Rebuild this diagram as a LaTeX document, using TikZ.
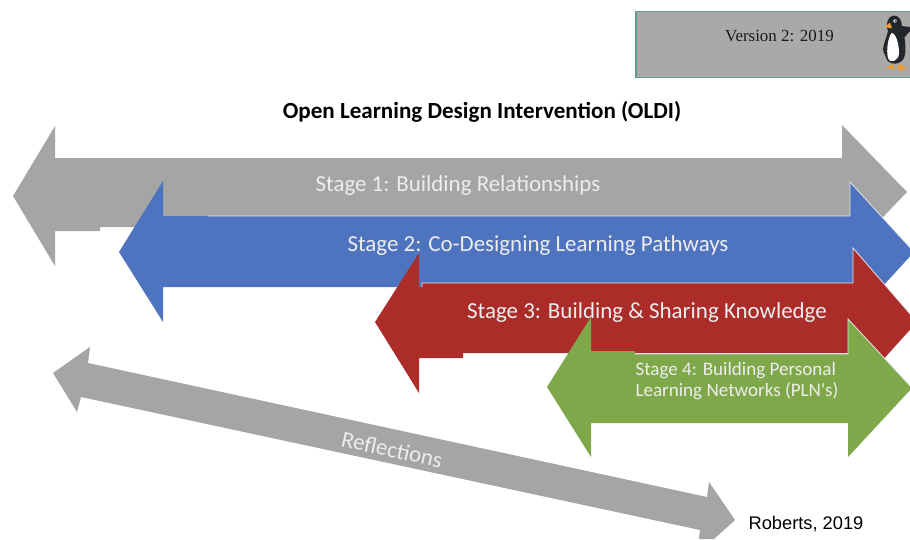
\documentclass[tikz,border=0pt]{standalone}
\usepackage{fontspec}
\newfontfamily\carlitoface{Carlito}
\newfontfamily\serifface{Liberation Serif}
\newfontfamily\sansface{Liberation Sans}
\definecolor{stagegrey}{HTML}{A5A5A5}
\definecolor{stageblue}{HTML}{4F74BF}
\definecolor{stagered}{HTML}{AB2C29}
\definecolor{stagegreen}{HTML}{7FA84B}
\definecolor{versionfill}{HTML}{ABA9A7}
\definecolor{versionline}{HTML}{5E9E88}
\definecolor{penguinorange}{HTML}{EE9F33}
\definecolor{penguinblack}{HTML}{23262A}
\tikzset{
  edgeline/.style={draw=white!90!black,line width=.6pt,line join=miter},
  stagetext/.style={text=white!93!black,font=\carlitoface\fontsize{17.2}{20}\selectfont,inner sep=0pt},
}

\begin{document}
\begin{tikzpicture}[x=.75pt,y=-.75pt]
        \useasboundingbox (0,0) rectangle (910,539);
        \clip (0,0) rectangle (910,539);
        \fill[white] (0,0) rectangle (910,539);

        % version box
        \path[fill=versionfill,draw=versionline,line width=.8pt] (636,11.5) -- (912,11.5) -- (912,77.5) -- (636,77.5) -- cycle;
        \node[font=\serifface\fontsize{12.7}{15}\selectfont,text=black!90] (version) at (779.5,36) {Version 2: 2019};

        % penguin
        \fill[penguinblack] (901,26) -- (910,27) -- (910,31) -- (903,39) -- cycle;
        \fill[penguinblack] (893.5,15.5) .. controls (899,15.5) and (902,20) .. (902,27)
          .. controls (905,38) and (907,50) .. (904,58) .. controls (901,65) and (889,66) .. (886,58)
          .. controls (885,54) and (883,52) .. (883,50) .. controls (883,44) and (887,37) .. (888,31)
          .. controls (885,24) and (888,16) .. (893.5,15.5) -- cycle;
        \fill[white] (891.5,33) .. controls (896,33) and (899,44) .. (899,53)
          .. controls (899,61) and (890,64) .. (888,58) .. controls (886,50) and (888,38) .. (891.5,33) -- cycle;
        \fill[white] (895,21) circle (1.8);
        \fill[black] (895.3,21) circle (.8);
        \fill[penguinorange] (890,22.5) -- (884.5,27) -- (892,28.5) -- cycle;
        \fill[penguinorange] (892,64) -- (886,67.5) -- (895,69.5) -- cycle;
        \fill[penguinorange] (899,64) -- (907,67.5) -- (900,70.5) -- (897,68) -- cycle;

        % title
        \node[font=\carlitoface\bfseries\fontsize{17.3}{20}\selectfont,text=black] (title) at (482,112) {Open Learning Design Intervention (OLDI)};

        % stage 1
        \fill[stagegrey] (13,196) -- (55,126) -- (55,158) -- (842,158) -- (842,125) -- (907,192) -- (842,260) -- (842,227) -- (100,227) -- (100,231) -- (55,231) -- (55,266) -- cycle;
        \node[stagetext] (stage1) at (458,185.5) {Stage 1: Building Relationships};

        % stage 2
        \fill[stageblue] (119,252) -- (163,181) -- (163,216) -- (850,216) -- (850,182) -- (914,252) -- (850,322) -- (850,287) -- (163,287) -- (163,322) -- cycle;
        \draw[edgeline] (208,216) -- (850,216) -- (850,182) -- (914,252);
        \node[stagetext] (stage2) at (538,245.5) {Stage 2: Co-Designing Learning Pathways};

        % stage 3
        \fill[stagered] (375,322) -- (419,253) -- (419,287) -- (422,287) -- (422,283) -- (853,283) -- (853,248) -- (917,322) -- (853,393) -- (853,353) -- (463,353) -- (463,358) -- (419,358) -- (419,393) -- cycle;
        \draw[edgeline] (422,287) -- (422,283) -- (853,283) -- (853,248) -- (917,322);
        \node[stagetext] (stage3) at (647,312.5) {Stage 3: Building \& Sharing Knowledge};

        % stage 4
        \fill[stagegreen] (547,387) -- (591,317) -- (591,351) -- (635,351) -- (635,354) -- (848,354) -- (848,319) -- (912,388) -- (848,457) -- (848,423) -- (591,423) -- (591,457) -- cycle;
        \draw[edgeline] (635,354) -- (848,354) -- (848,319) -- (912,388);
        \node[stagetext,font=\carlitoface\fontsize{14.3}{16}\selectfont,align=left] (stage4) at (737,381) {Stage 4: Building Personal\\Learning Networks (PLN's)};

        % reflections
        \fill[stagegrey] (53,373) -- (90,347) -- (88,363) -- (707,497) -- (709,482) -- (735,520) -- (714,539) -- (699,539) -- (700,530) -- (81,397) -- (77,412) -- cycle;
        \node[stagetext,rotate=-12.2] (reflections) at (392,449.5) {Reflections};

        % citation
        \node[font=\sansface\fontsize{13.7}{16}\selectfont,text=black] (citation) at (806,524) {Roberts, 2019};
      \end{tikzpicture}
\end{document}
